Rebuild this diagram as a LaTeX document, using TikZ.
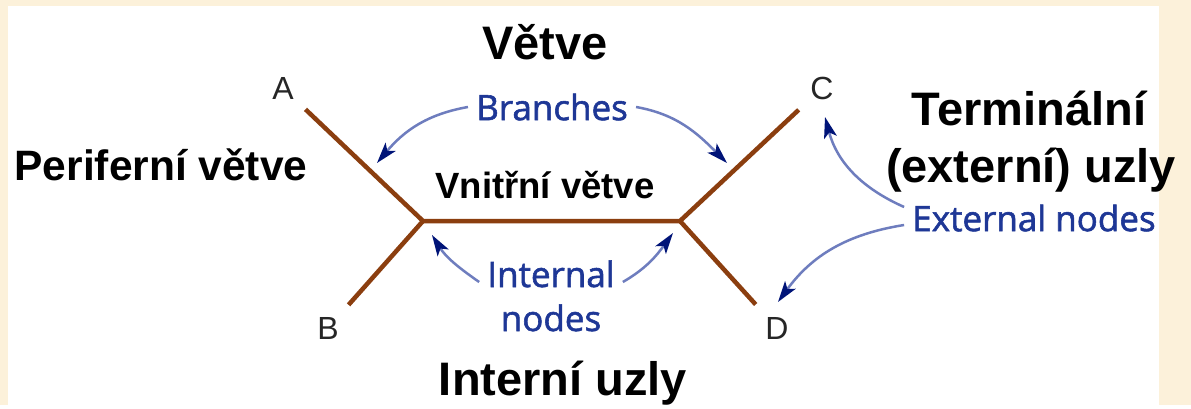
\documentclass[tikz,border=0pt]{standalone}
\usepackage{fontspec}
\setmainfont{Liberation Sans}
\newfontfamily\gillfont{Open Sans}[FakeBold=1.6]
\usetikzlibrary{arrows.meta}
\definecolor{bark}{RGB}{139,62,15}
\definecolor{parch}{RGB}{252,241,218}
\definecolor{navy}{RGB}{30,55,150}
\definecolor{wire}{RGB}{110,125,190}
\definecolor{tipc}{RGB}{0,20,120}

\begin{document}
\begin{tikzpicture}[x=1pt, y=-1pt,
  branch/.style={draw=bark, line width=4.5pt, line join=round},
  leaf/.style={circle, inner sep=11pt, font=\fontsize{32}{34}\selectfont, text=black!85},
  title/.style={anchor=base, font=\fontsize{47}{50}\selectfont\bfseries},
  eng/.style={inner sep=8pt, text=navy, font=\gillfont\fontsize{35}{38}\selectfont},
  pointer/.style={draw=wire, line width=2.5pt, -{Stealth[length=21pt, width=13pt, inset=5pt, color=tipc]}}]
  \fill[parch] (0,0) rectangle (1191,405);
  \fill[white] (8,6) rectangle (1159,405);

  % the tree
  \coordinate (j1) at (423,221);
  \coordinate (j2) at (680,221);
  \node[leaf] (A) at (283,88) {A};
  \node[leaf] (B) at (328,328) {B};
  \node[leaf] (C) at (822,88) {C};
  \node[leaf] (D) at (777,328) {D};
  \draw[branch] (A) -- (j1) -- (j2) -- (C);
  \draw[branch] (B) -- (j1);
  \draw[branch] (j2) -- (D);

  % czech labels
  \node[title] (vetve) at (545,60) {Větve};
  \node[title, font=\fontsize{42.5}{45}\selectfont\bfseries] (perif) at (161,180) {Periferní větve};
  \node[title, font=\fontsize{36.5}{39}\selectfont\bfseries] (vnitr) at (545,198) {Vnitřní větve};
  \node[title] (term) at (1029,125) {Terminální};
  \node[title] (termb) at (1031,182) {(externí) uzly};
  \node[title] (intr) at (563,395) {Interní uzly};

  % english labels
  \node[eng] (br) at (552,107) {Branches};
  \node[eng] (extn) at (1034,218) {External nodes};
  \node[eng, anchor=base] (intn) at (551,287) {Internal};
  \node[eng, anchor=base] (intnb) at (551,331) {nodes};

  \coordinate (tipA) at (377,163);
  \coordinate (tipC) at (727,163);
  \coordinate (tipJ1) at (432,235);
  \coordinate (tipJ2) at (673,233);
  \coordinate (tipEC) at (825,117);
  \coordinate (tipED) at (778,302);
  \draw[pointer] (br.west) to[out=190, in=50] (tipA);
  \draw[pointer] (br.east) to[out=-10, in=135] (tipC);
  \draw[pointer] ([yshift=5pt]intn.base west) to[out=145, in=302] (tipJ1);
  \draw[pointer] ([yshift=5pt]intn.base east) to[out=30, in=234] (tipJ2);
  \draw[pointer] ([yshift=11pt]extn.west) to[out=156, in=285] (tipEC);
  \draw[pointer] ([yshift=-7pt]extn.west) to[out=189, in=54] (tipED);
\end{tikzpicture}
\end{document}
